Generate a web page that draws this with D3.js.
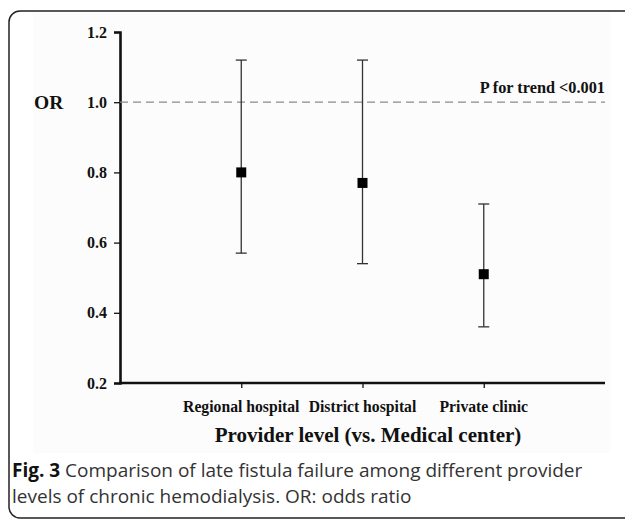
<!DOCTYPE html>
<html>
<head>
<meta charset="utf-8">
<script src="https://cdn.jsdelivr.net/npm/d3@7"></script>
<style>
  html, body { margin: 0; padding: 0; background: #fff; }
  svg { display: block; }
</style>
</head>
<body>
<svg id="chart" width="625" height="519"></svg>
<script>
const categories = ["Regional hospital", "District hospital", "Private clinic"];
const orValues = [0.80, 0.77, 0.51];
const lowerCI = [0.57, 0.54, 0.36];
const upperCI = [1.12, 1.12, 0.71];
const yTicks = [0.2, 0.4, 0.6, 0.8, 1.0, 1.2];
const referenceValue = 1.0;
const trendLabel = "P for trend <0.001";
const yLabel = "OR";
const xTitle = "Provider level (vs. Medical center)";
const captionBold = "Fig. 3";
const captionLines = [" Comparison of late fistula failure among different provider",
                      "levels of chronic hemodialysis. OR: odds ratio"];

const svg = d3.select("#chart");
const serif = "'Liberation Serif', 'Times New Roman', serif";

// outer rounded frame
svg.append("rect")
  .attr("x", 9).attr("y", 11).attr("width", 650).attr("height", 507)
  .attr("rx", 11).attr("ry", 11)
  .attr("fill", "#fff").attr("stroke", "#222").attr("stroke-width", 1.5);
// faint chart image background
svg.append("rect")
  .attr("x", 33).attr("y", 13).attr("width", 577).attr("height", 440)
  .attr("fill", "#fcfcfc");

const plotLeft = 120, plotRight = 605, plotTop = 32, plotBottom = 383;

const x = d3.scalePoint().domain(categories).range([plotLeft, plotRight]).padding(1);
const y = d3.scaleLinear().domain([0.2, 1.2]).range([plotBottom, plotTop]);

// y axis
const yAxis = svg.append("g").attr("transform", `translate(${plotLeft},0)`)
  .call(d3.axisLeft(y).tickValues(yTicks).tickFormat(d3.format(".1f")).tickSizeOuter(0).tickSize(6).tickPadding(7));
yAxis.select(".domain").attr("stroke", "#111").attr("stroke-width", 2.6);
yAxis.selectAll(".tick line").attr("stroke", "#111").attr("stroke-width", 1.3);
yAxis.selectAll(".tick text").attr("font-family", serif).attr("font-weight", "bold")
  .attr("font-size", 16).attr("fill", "#111");

// x axis
const xAxis = svg.append("g").attr("transform", `translate(0,${plotBottom})`)
  .call(d3.axisBottom(x).tickSizeOuter(0).tickSize(5).tickFormat(""));
xAxis.select(".domain").attr("stroke", "#111").attr("stroke-width", 2.6)
  .attr("d", `M${plotLeft - 1},0H${plotRight}`);
xAxis.selectAll(".tick line").attr("stroke", "#111").attr("stroke-width", 1.3);

// category labels
svg.append("g").selectAll("text").data(categories).join("text")
  .attr("x", d => x(d)).attr("y", 412)
  .attr("text-anchor", "middle")
  .attr("font-family", serif).attr("font-weight", "bold").attr("font-size", 15.7).attr("fill", "#111")
  .text(d => d);

// reference dashed line
svg.append("line")
  .attr("x1", plotLeft).attr("x2", plotRight)
  .attr("y1", y(referenceValue)).attr("y2", y(referenceValue))
  .attr("stroke", "#8a8a8a").attr("stroke-width", 1.2).attr("stroke-dasharray", "8,5");

svg.append("text").attr("x", plotRight).attr("y", y(referenceValue) - 9)
  .attr("text-anchor", "end")
  .attr("font-family", serif).attr("font-weight", "bold").attr("font-size", 16.3).attr("fill", "#111")
  .text(trendLabel);

// OR label
svg.append("text").attr("x", 34).attr("y", y(referenceValue) + 6.5)
  .attr("font-family", serif).attr("font-weight", "bold").attr("font-size", 19.5).attr("fill", "#111")
  .text(yLabel);

// error bars
const g = svg.append("g");
categories.forEach((c, i) => {
  const cx = x(c);
  g.append("line").attr("x1", cx).attr("x2", cx)
    .attr("y1", y(upperCI[i])).attr("y2", y(lowerCI[i]))
    .attr("stroke", "#333").attr("stroke-width", 1.3);
  [upperCI[i], lowerCI[i]].forEach(v => {
    g.append("line").attr("x1", cx - 5.5).attr("x2", cx + 5.5)
      .attr("y1", y(v)).attr("y2", y(v))
      .attr("stroke", "#333").attr("stroke-width", 1.3);
  });
  g.append("rect").attr("x", cx - 5).attr("y", y(orValues[i]) - 5)
    .attr("width", 10).attr("height", 10).attr("fill", "#000");
});

// x title
svg.append("text").attr("x", 368).attr("y", 442)
  .attr("text-anchor", "middle")
  .attr("font-family", serif).attr("font-weight", "bold").attr("font-size", 21).attr("fill", "#111")
  .text(xTitle);

// caption
const cap = svg.append("text").attr("x", 12).attr("y", 477)
  .attr("font-family", "'Open Sans', 'Noto Sans', sans-serif").attr("font-size", 19).attr("fill", "#333");
cap.append("tspan").attr("font-weight", "bold").attr("fill", "#111").text(captionBold);
cap.append("tspan").text(captionLines[0]);
svg.append("text").attr("x", 12).attr("y", 503)
  .attr("font-family", "'Open Sans', 'Noto Sans', sans-serif").attr("font-size", 19).attr("fill", "#333")
  .text(captionLines[1]);
</script>
</body>
</html>
